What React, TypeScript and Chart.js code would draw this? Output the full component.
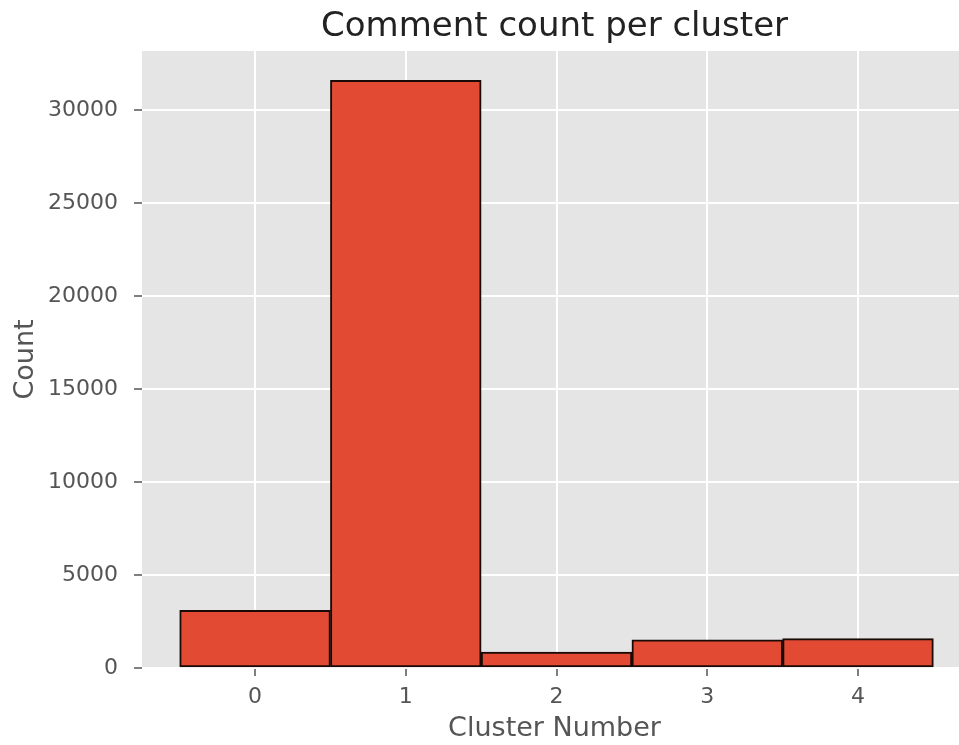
import React, { useEffect, useRef } from "react";
import { Chart, registerables } from "chart.js";

Chart.register(...registerables);

// ---- data ----
const clusters = [0, 1, 2, 3, 4];
const counts = [3100, 31600, 850, 1510, 1580];
const xTicks = [0, 1, 2, 3, 4];
const yTicks = [0, 5000, 10000, 15000, 20000, 25000, 30000];
const titleText = "Comment count per cluster";
const xLabelText = "Cluster Number";
const yLabelText = "Count";

const FONT = '"DejaVu Sans", sans-serif';

const bgPlugin = {
  id: "plotBg",
  beforeDraw(chart: any) {
    const { ctx, chartArea: a } = chart;
    ctx.save();
    ctx.fillStyle = "#E5E5E5";
    ctx.fillRect(a.left, a.top, a.right - a.left, a.bottom - a.top);
    ctx.restore();
  },
};

const textPlugin = {
  id: "texts",
  afterDraw(chart: any) {
    const { ctx, chartArea: a } = chart;
    const xs = chart.scales.x;
    const cx = xs.getPixelForValue(2);
    ctx.save();
    ctx.textAlign = "center";
    ctx.textBaseline = "alphabetic";
    ctx.fillStyle = "#222222";
    ctx.font = `34px ${FONT}`;
    ctx.fillText(titleText, cx - 2, 36);
    ctx.fillStyle = "#555555";
    ctx.font = `27px ${FONT}`;
    ctx.fillText(xLabelText, cx - 2, 736);
    ctx.translate(33, (a.top + a.bottom) / 2);
    ctx.rotate(-Math.PI / 2);
    ctx.fillText(yLabelText, 0, 0);
    ctx.restore();
  },
};

export default function App() {
  const ref = useRef<HTMLCanvasElement | null>(null);

  useEffect(() => {
    if (!ref.current) return;
    const chart = new Chart(ref.current, {
      type: "bar",
      data: {
        datasets: [
          {
            data: clusters.map((c, i) => ({ x: c, y: counts[i] })),
            backgroundColor: "#E24A33",
            borderColor: "#1a0a06",
            borderWidth: 2,
            borderSkipped: false,
            barPercentage: 1,
            categoryPercentage: 1,
          } as any,
        ],
      },
      plugins: [bgPlugin, textPlugin],
      options: {
        animation: false,
        responsive: false,
        devicePixelRatio: 1,
        layout: { padding: { top: 51, left: 0, right: 0, bottom: 0 } },
        plugins: {
          legend: { display: false },
          title: { display: false },
          tooltip: { enabled: false },
        },
        scales: {
          x: {
            type: "linear",
            offset: false,
            min: -0.75,
            max: 4.67,
            afterBuildTicks: (s: any) => {
              s.ticks = xTicks.map((v) => ({ value: v }));
            },
            afterFit: (s: any) => {
              s.height = 77;
              s.paddingLeft = 0;
              s.paddingRight = 0;
            },
            border: { display: false },
            grid: {
              offset: false,
              color: "#FFFFFF",
              lineWidth: 2,
              drawTicks: true,
              tickLength: 8,
              tickColor: "#555555",
              tickWidth: 1.5,
            },
            ticks: {
              color: "#555555",
              font: { family: FONT, size: 22 },
              padding: 8,
              maxRotation: 0,
              autoSkip: false,
              callback: (v: any) => String(v),
            },
          },
          y: {
            type: "linear",
            min: 0,
            max: 33180,
            afterBuildTicks: (s: any) => {
              s.ticks = yTicks.map((v) => ({ value: v }));
            },
            afterFit: (s: any) => {
              s.width = 142;
              s.paddingTop = 0;
              s.paddingBottom = 0;
            },
            border: { display: false },
            grid: {
              color: "#FFFFFF",
              lineWidth: 2,
              drawTicks: true,
              tickLength: 8,
              tickColor: "#555555",
              tickWidth: 1.5,
            },
            ticks: {
              color: "#555555",
              font: { family: FONT, size: 22 },
              padding: 16,
              autoSkip: false,
              callback: (v: any) => String(v),
            },
          },
        },
      },
    });
    return () => chart.destroy();
  }, []);

  return (
    <div style={{ position: "fixed", left: 0, top: 0, width: 959, height: 745, background: "#fff" }}>
      <canvas ref={ref} width={959} height={745} style={{ width: 959, height: 745, display: "block" }} />
    </div>
  );
}
